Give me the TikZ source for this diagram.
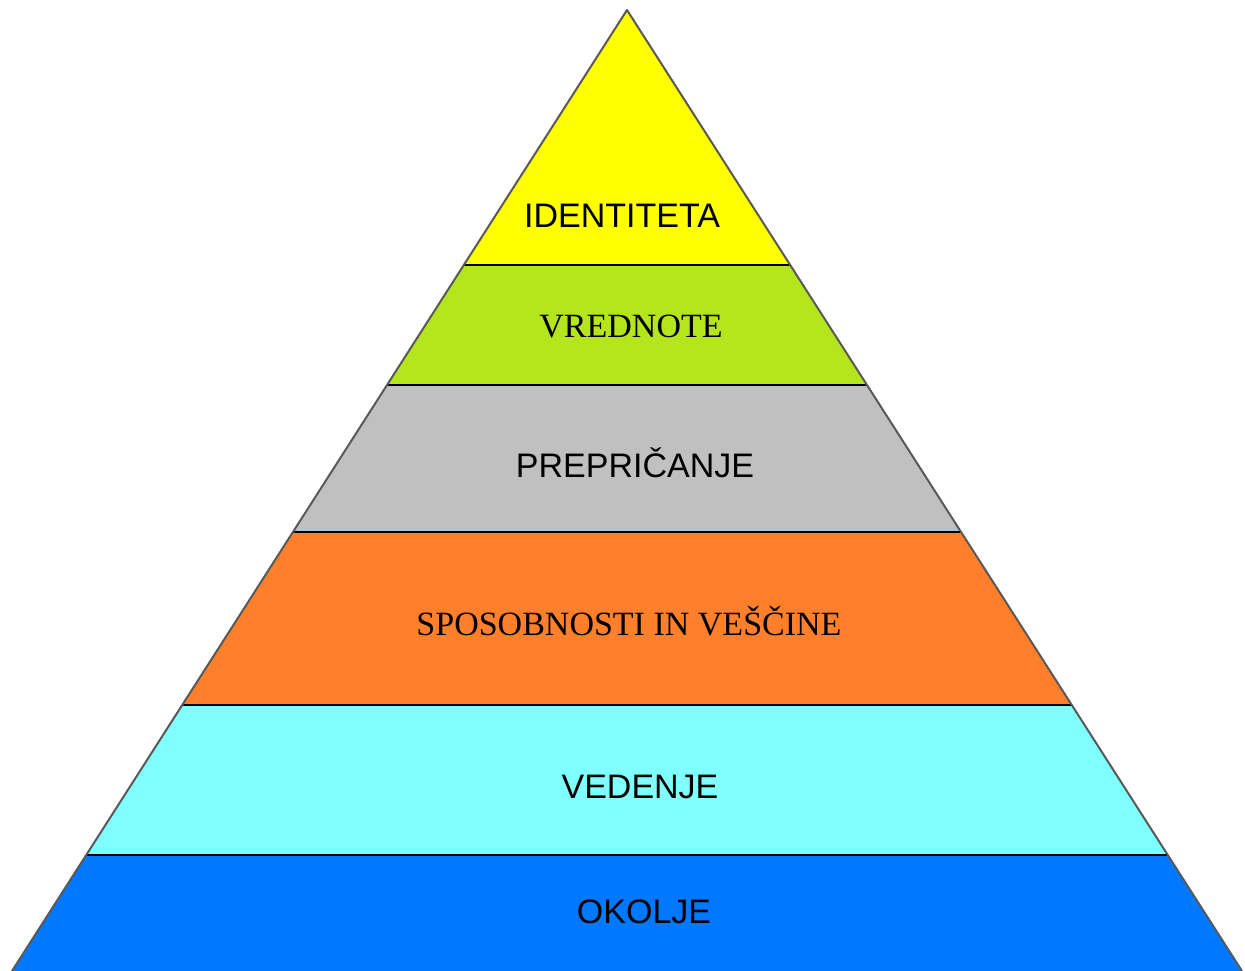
\documentclass[tikz,border=0pt]{standalone}
\usepackage{fontspec}
\setmainfont{Liberation Serif}
\setsansfont{Liberation Sans}
\usepackage{xcolor}
\usetikzlibrary{positioning}

\definecolor{identity}{HTML}{FFFF00}
\definecolor{values}{HTML}{B5E61D}
\definecolor{beliefs}{HTML}{C0C0C0}
\definecolor{skills}{HTML}{FF7F2A}
\definecolor{knowledge}{HTML}{80FFFF}
\definecolor{environment}{HTML}{0078FF}

\begin{document}
\begin{tikzpicture}[
  x=1pt,y=-1pt,
  sanslabel/.style={font=\sffamily\fontsize{34}{40}\selectfont,inner sep=0},
  seriflabel/.style={font=\rmfamily\fontsize{34}{40}\selectfont,inner sep=0},
  edge/.style={draw=black!65,line width=2pt},
  band/.style={draw=black,line width=1.4pt}]

  \useasboundingbox (0,0) rectangle (1245,971);

  % ------------------- layers ----------------------
  \foreach \top/\bot/\col in {10/265/identity,265/385/values,385/532/beliefs,
                              532/705/skills,705/855/knowledge,855/971/environment} {
    \fill[\col] ({627-0.64*(\top-10)},\top) -- ({627+0.64*(\top-10)},\top)
      -- ({627+0.64*(\bot-10)},\bot) -- ({627-0.64*(\bot-10)},\bot) -- cycle;
  }
  \foreach \y in {265,385,532,705,855} {
    \draw[band] ({627-0.64*(\y-10)},\y) -- ({627+0.64*(\y-10)},\y);
  }

  % ------------------- outline ----------------------
  \coordinate (apex)  at (627,10);
  \coordinate (baseL) at (12,971);
  \coordinate (baseR) at (1242,971);
  \draw[edge,line join=round] (baseL) -- (apex) -- (baseR);

  % ------------------- labels ----------------------
  \node[sanslabel]  (identiteta) at (622,216) {IDENTITETA};
  \node[seriflabel] (vrednote)   at (631,326) {VREDNOTE};
  \node[sanslabel]  (prepricanje) at (635,463) {PREPRIČANJE};
  \node[seriflabel] (sposobnosti) at (629,621) {SPOSOBNOSTI IN VEŠČINE};
  \node[sanslabel]  (vedenje)    at (640,787) {VEDENJE};
  \node[sanslabel]  (okolje)     at (644,912) {OKOLJE};
\end{tikzpicture}
\end{document}
